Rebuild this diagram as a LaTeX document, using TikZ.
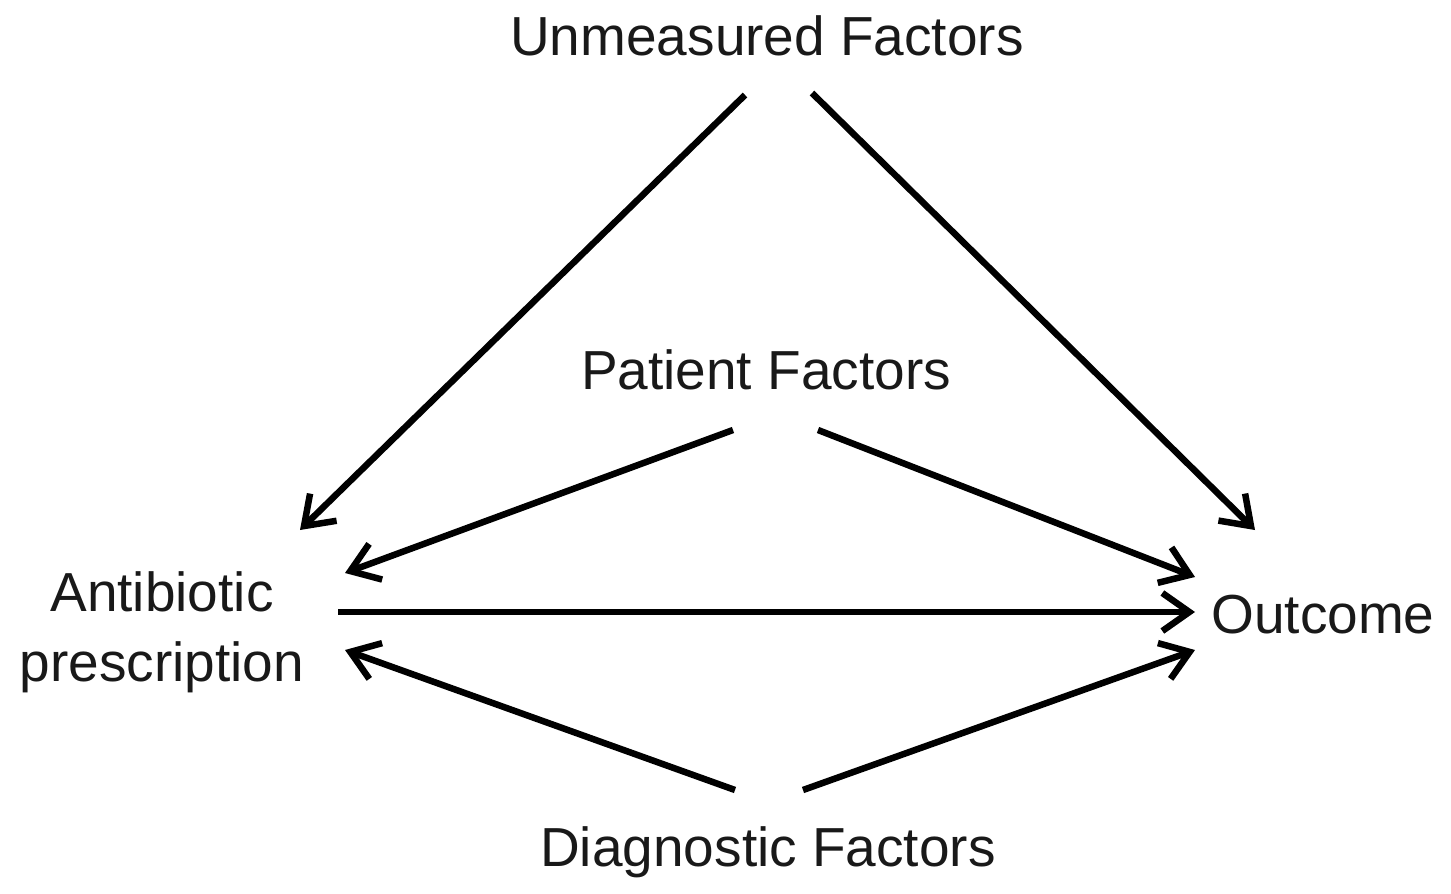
\documentclass[tikz,border=0pt]{standalone}
\usepackage{fontspec}
\setmainfont{Liberation Sans}
\usetikzlibrary{arrows.meta}
\begin{document}
\begin{tikzpicture}[x=1pt,y=-1pt,
  lbl/.style={font=\fontsize{55}{70}\selectfont, inner sep=0pt, align=center, text=black!90},
  edge/.style={line width=6.5pt, -{Straight Barb[length=27pt,width=38pt]}}]
\useasboundingbox (0,0) rectangle (1451,894);
\node[lbl] (um) at (767,36) {Unmeasured Factors};
\node[lbl] (pf) at (766,370) {Patient Factors};
\node[lbl] (ab) at (162,632) {Antibiotic\\prescription};
\node[lbl] (oc) at (1323,615) {Outcome};
\node[lbl] (df) at (768,852) {Diagnostic Factors};
% connector end points
\coordinate (um1) at (745,95);
\coordinate (um2) at (812,93);
\coordinate (pf1) at (733,430);
\coordinate (pf2) at (818,430);
\coordinate (df1) at (735,790);
\coordinate (df2) at (803,790);
\coordinate (abU) at (300,530);
\coordinate (abP) at (345,573);
\coordinate (abO) at (338,612);
\coordinate (abD) at (345,650);
\coordinate (ocU) at (1255,530);
\coordinate (ocP) at (1195,577);
\coordinate (ocA) at (1195,612);
\coordinate (ocD) at (1195,650);
\draw[edge] (um1) -- (abU);
\draw[edge] (um2) -- (ocU);
\draw[edge] (pf1) -- (abP);
\draw[edge] (pf2) -- (ocP);
\draw[edge] (abO) -- (ocA);
\draw[edge] (df1) -- (abD);
\draw[edge] (df2) -- (ocD);
\end{tikzpicture}
\end{document}
